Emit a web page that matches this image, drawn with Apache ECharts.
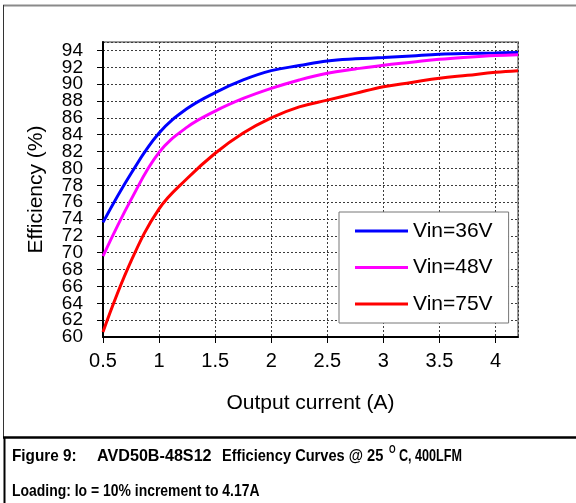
<!DOCTYPE html>
<html>
<head>
<meta charset="utf-8">
<script src="https://cdn.jsdelivr.net/npm/echarts@6/dist/echarts.min.js"></script>
<style>
html,body{margin:0;padding:0;background:#fff;}
#c{width:576px;height:503px;}
</style>
</head>
<body>
<div id="c"></div>
<script>
var current = [0.5, 0.75, 1.0, 1.25, 1.5, 1.75, 2.0, 2.25, 2.5, 2.75, 3.0, 3.25, 3.5, 3.75, 4.0, 4.2];
var vin36 = [73.6, 79.4, 84.2, 87.1, 89.0, 90.5, 91.6, 92.2, 92.75, 93.0, 93.15, 93.35, 93.55, 93.65, 93.7, 93.75];
var vin48 = [69.6, 76.3, 81.9, 84.9, 86.8, 88.3, 89.5, 90.5, 91.3, 91.8, 92.25, 92.6, 92.95, 93.2, 93.4, 93.5];
var vin75 = [60.6, 69.0, 75.2, 78.8, 81.8, 84.2, 86.0, 87.3, 88.1, 88.9, 89.7, 90.2, 90.7, 91.05, 91.4, 91.6];
var seriesNames = ['Vin=36V', 'Vin=48V', 'Vin=75V'];
var seriesColors = ['#0000ff', '#ff00ff', '#ff0000'];
var yTicks = {min: 60, max: 95, interval: 2};
var xTicks = {min: 0.5, max: 4.2, interval: 0.5};

function pairs(xs, ys) { return xs.map(function (x, i) { return [x, ys[i]]; }); }

var chart = echarts.init(document.getElementById('c'), null, {renderer: 'canvas'});
var FONT = '"Liberation Sans", Arial, sans-serif';
var gridLine = {show: true, lineStyle: {color: '#3c3c3c', width: 1, type: [2, 2]}};

function cap(text, x, y, sx, size) {
  return {type: 'text', x: x, y: y, scaleX: sx, style: {text: text, font: 'bold ' + (size || 17) + 'px ' + FONT, fill: '#000', verticalAlign: 'middle'}};
}

var yLabelStyle = {fontSize: 19, lineHeight: 14, color: '#000', margin: 20, hideOverlap: false, fontFamily: FONT};

var option = {
  animation: false,
  backgroundColor: '#fff',
  textStyle: {fontFamily: FONT},
  grid: {left: 103, top: 42, right: 58, bottom: 166, show: true, borderColor: '#9a9a9a', borderWidth: 2, backgroundColor: 'transparent'},
  xAxis: {
    type: 'value', min: xTicks.min, max: xTicks.max, interval: xTicks.interval,
    name: 'Output current (A)', nameLocation: 'middle', nameGap: 56,
    nameTextStyle: {fontSize: 21, color: '#000', fontFamily: FONT},
    axisLine: {show: true, onZero: false, lineStyle: {color: '#000', width: 2}},
    axisTick: {show: true, length: 6, inside: false, lineStyle: {color: '#000', width: 1}},
    axisLabel: {fontSize: 20, color: '#000', margin: 14, showMinLabel: true, showMaxLabel: false, fontFamily: FONT},
    splitLine: gridLine
  },
  yAxis: [{
    type: 'value', min: yTicks.min, max: yTicks.max, interval: yTicks.interval, position: 'left',
    name: 'Efficiency (%)', nameLocation: 'middle', nameGap: 56,
    nameTextStyle: {fontSize: 21, color: '#000', fontFamily: FONT},
    axisLine: {show: true, onZero: false, lineStyle: {color: '#000', width: 2}},
    axisTick: {show: true, length: 6, inside: false, lineStyle: {color: '#000', width: 1}},
    axisLabel: Object.assign({showMinLabel: false, showMaxLabel: false}, yLabelStyle),
    splitLine: gridLine
  }, {
    type: 'value', min: yTicks.min, max: yTicks.max, interval: yTicks.interval, position: 'left', offset: 0,
    axisLine: {show: false}, axisTick: {show: false}, splitLine: {show: false},
    axisLabel: Object.assign({showMinLabel: true, showMaxLabel: false,
      formatter: function (v) { return v === yTicks.min ? String(v) : ''; }}, yLabelStyle)
  }],
  legend: {
    orient: 'vertical', left: 339, top: 212,
    backgroundColor: '#fff', borderColor: '#777', borderWidth: 1,
    padding: [8, 16, 8, 16], itemGap: 14.5,
    icon: 'rect', itemWidth: 53, itemHeight: 3,
    textStyle: {fontSize: 21, color: '#000', lineHeight: 22, fontFamily: FONT},
    data: seriesNames
  },
  series: [vin36, vin48, vin75].map(function (vals, i) {
    return {
      name: seriesNames[i], type: 'line', yAxisIndex: 0, data: pairs(current, vals),
      smooth: 0.4, showSymbol: false, symbol: 'none',
      lineStyle: {color: seriesColors[i], width: 3},
      itemStyle: {color: seriesColors[i]}
    };
  }),
  graphic: [
    {type: 'line', shape: {x1: 3, y1: 5.5, x2: 576, y2: 5.5}, style: {stroke: '#8a8a8a', lineWidth: 2}},
    {type: 'line', shape: {x1: 3.5, y1: 5, x2: 3.5, y2: 437}, style: {stroke: '#333', lineWidth: 1}},
    {type: 'line', shape: {x1: 3, y1: 437.5, x2: 576, y2: 437.5}, style: {stroke: '#000', lineWidth: 2.5}},
    {type: 'line', shape: {x1: 4.5, y1: 437, x2: 4.5, y2: 503}, style: {stroke: '#000', lineWidth: 2}},
    cap('Figure 9:', 12, 456, 0.9),
    cap('AVD50B-48S12', 97, 456, 0.95),
    cap('Efficiency Curves @ 25', 222, 456, 0.86),
    cap('O', 389, 450, 0.85, 10),
    cap('C, 400LFM', 399, 456, 0.74),
    cap('Loading: Io = 10% increment to 4.17A', 12, 491, 0.82)
  ]
};
chart.setOption(option);
</script>
</body>
</html>
